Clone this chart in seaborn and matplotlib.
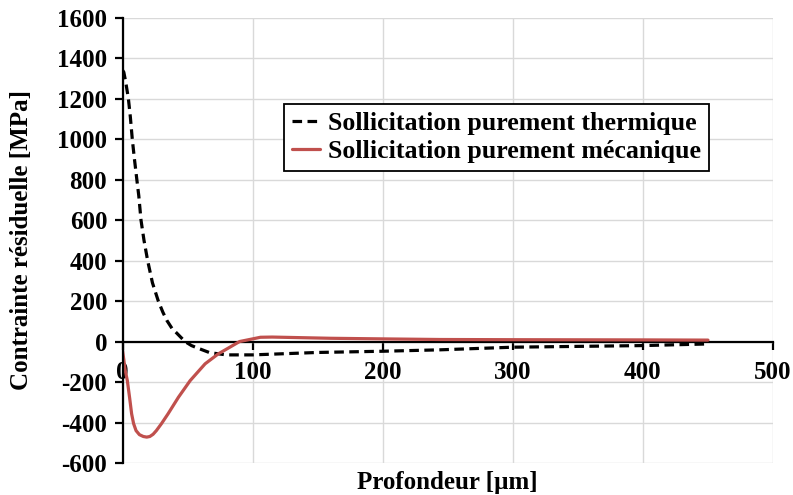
import numpy as np
import pandas as pd
import matplotlib
matplotlib.use("Agg")
import matplotlib.pyplot as plt
import seaborn as sns

# données
prof_therm = [0, 1, 2.5, 4.5, 6, 7.5, 9, 11, 12.5, 14.2, 16.5, 19.3, 23, 27.5, 31, 34, 38, 41.6, 48,
              53, 58, 67, 80, 100, 125, 150, 200, 244, 300, 350, 400, 450]
sig_therm = [1340, 1330, 1280, 1200, 1110, 1000, 910, 800, 720, 600, 500, 400, 290, 200, 145, 105, 65, 42, 0,
             -20, -33, -55, -66, -66, -60, -54, -48, -41, -28, -24, -20, -12]

prof_meca = [0, 1, 2, 3.7, 5.5, 7, 8.5, 10.4, 13, 16, 18.6, 21, 23.5, 26, 30, 35, 43, 52, 63.5, 73.6,
             82.5, 90, 100, 106, 115, 130, 160, 200, 244, 300, 400, 450]
sig_meca = [-45, -90, -140, -193, -280, -357, -405, -440, -460, -469, -472, -469, -458, -440, -405, -357, -275,
            -193, -110, -61, -28, 0, 13, 21, 22, 20, 16, 13, 10, 9, 8, 7]

lab_therm = "Sollicitation purement thermique"
lab_meca = "Sollicitation purement mécanique"

sns.set_style("whitegrid")
plt.rcParams["font.family"] = ["Liberation Serif", "DejaVu Serif"]
plt.rcParams["font.weight"] = "bold"
plt.rcParams["axes.unicode_minus"] = False
for k in ["text.color", "axes.labelcolor", "xtick.color", "ytick.color"]:
    plt.rcParams[k] = "black"

fig = plt.figure(figsize=(7.93, 4.95), dpi=100)
ax = fig.add_axes([0.1545, 0.0646, 0.8203, 0.9000])

sns.lineplot(x=prof_therm, y=sig_therm, ax=ax, color="black", lw=2.3,
             linestyle=(0, (3, 1.7)), label=lab_therm, zorder=3)
sns.lineplot(x=prof_meca, y=sig_meca, ax=ax, color="#C0504D", lw=2.3,
             label=lab_meca, zorder=3)

ax.set_xlim(0, 500)
ax.set_ylim(-600, 1600)
ax.set_xticks(np.arange(0, 501, 100))
ax.set_yticks(np.arange(-600, 1601, 200))

ax.grid(True, color="#d9d9d9", lw=1)
for s in ["top", "right"]:
    ax.spines[s].set_visible(False)
ax.spines["left"].set_color("black")
ax.spines["left"].set_linewidth(1.6)
ax.spines["bottom"].set_color("black")
ax.spines["bottom"].set_linewidth(1.6)
ax.spines["bottom"].set_position(("data", 0))
ax.spines["left"].set_zorder(4)
ax.spines["bottom"].set_zorder(2.5)

ax.tick_params(axis="both", which="major", labelsize=18, direction="out",
               length=6, width=1.6, color="black", left=True, bottom=True)
ax.tick_params(axis="y", pad=5)
ax.tick_params(axis="x", pad=8)
for t in ax.get_xticklabels() + ax.get_yticklabels():
    t.set_fontweight("bold")

ax.set_xlabel("Profondeur [µm]", fontsize=18, fontweight="bold")
ax.set_ylabel("Contrainte résiduelle [MPa]", fontsize=18, fontweight="bold")
ax.xaxis.set_label_coords(0.5, -0.018)
ax.yaxis.set_label_coords(-0.137, 0.5)

leg = ax.legend(loc="upper left", bbox_to_anchor=(0.248, 0.806), fontsize=18.6,
                frameon=True, fancybox=False, framealpha=1, edgecolor="black",
                handlelength=1.1, handletextpad=0.3, labelspacing=0.2,
                borderpad=0.3, borderaxespad=0)
leg.get_frame().set_linewidth(1.3)
for t in leg.get_texts():
    t.set_fontweight("bold")

fig.savefig("out.png", dpi=100)
